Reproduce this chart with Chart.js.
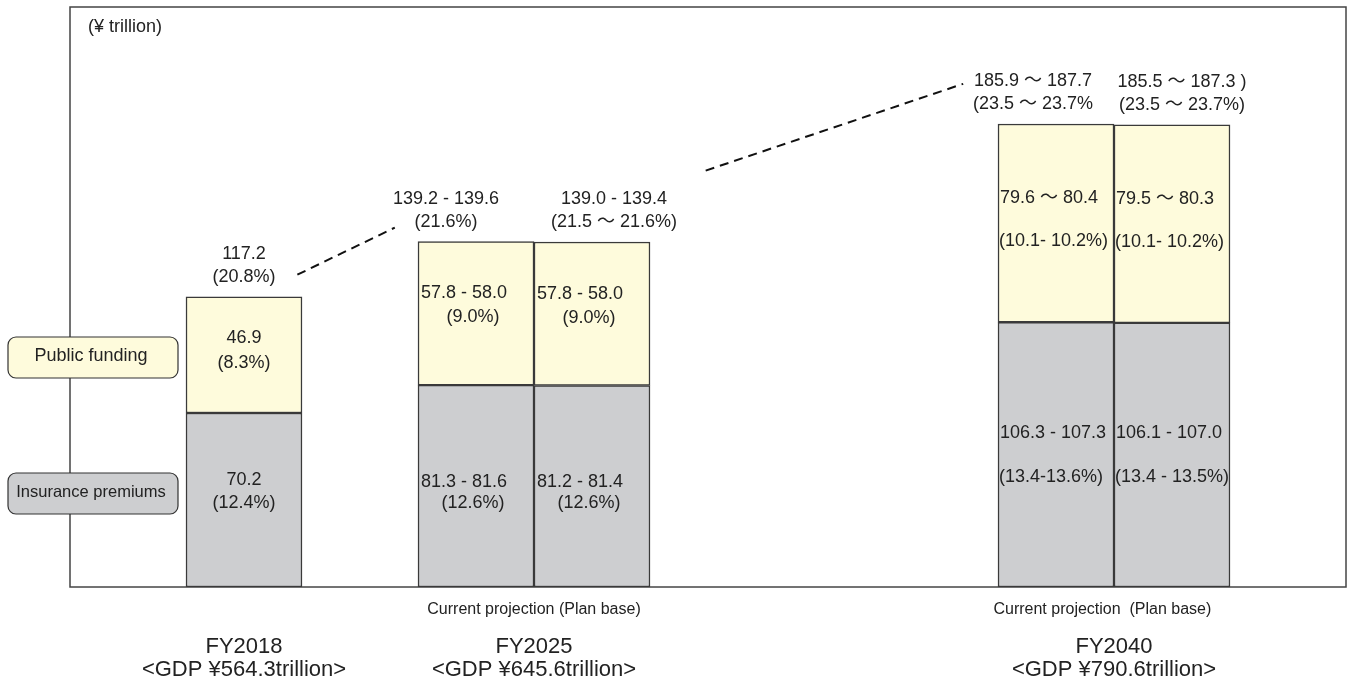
<!DOCTYPE html>
<html>
<head>
<meta charset="utf-8">
<script src="https://cdn.jsdelivr.net/npm/chart.js@4.4.1/dist/chart.umd.min.js"></script>
<style>
html, body { margin: 0; padding: 0; background: #fff; }
#wrap { width: 1352px; height: 686px; position: relative; }
</style>
</head>
<body>
<div id="wrap"><canvas id="chart"></canvas></div>
<script>
// 11 equal slots along the x axis, bars sit in some of them
const slots = ['', 'FY2018', '', 'FY2025 current', 'FY2025 plan', '', '', '', 'FY2040 current', 'FY2040 plan', ''];
const barSlot = [1, 3, 4, 8, 9];
const premiums = [70.2, 81.45, 81.3, 106.8, 106.55];
const publicFunding = [46.9, 57.9, 57.9, 80.0, 79.9];
const premiumText = [['70.2', '(12.4%)'], ['81.3 - 81.6', '(12.6%)'], ['81.2 - 81.4', '(12.6%)'], ['106.3 - 107.3', '(13.4-13.6%)'], ['106.1 - 107.0', '(13.4 - 13.5%)']];
const publicText = [['46.9', '(8.3%)'], ['57.8 - 58.0', '(9.0%)'], ['57.8 - 58.0', '(9.0%)'], ['79.6 ～ 80.4', '(10.1- 10.2%)'], ['79.5 ～ 80.3', '(10.1- 10.2%)']];
const totalText = [['117.2', '(20.8%)'], ['139.2 - 139.6', '(21.6%)'], ['139.0 - 139.4', '(21.5 ～ 21.6%)'], ['185.9 ～ 187.7', '(23.5 ～ 23.7%'], ['185.5 ～ 187.3 )', '(23.5 ～ 23.7%)']];
const years = ['FY2018', 'FY2025', 'FY2040'];
const gdp = ['<GDP ¥564.3trillion>', '<GDP ¥645.6trillion>', '<GDP ¥790.6trillion>'];
const yearPos = [1.5, 4, 9];
const projText = ['Current projection (Plan base)', 'Current projection  (Plan base)'];
const projPos = [4, 8.9];
// dashed connectors between the totals (x in slot units, y in ¥ trillion)
const trendLine = [{x: 1.96, y: 126}, {x: 2.8, y: 145}, {x: 4, y: null}, {x: 5.48, y: 168}, {x: 7.7, y: 203}];

// layout tweaks for the text blocks
const totalShift = [0, -30, 22, -23, 10];
const premiumDy = [[-20, 3], [-4, 17], [-4, 17], [-22, 22], [-22, 22]];
const publicDy = [[-17, 8], [-20, 4], [-20, 4], [-25, 18], [-25, 18]];
const FONT = '"Liberation Sans", "Noto Sans CJK JP", sans-serif';
const INK = '#222';

function toSlots(vals) {
    const out = slots.map(() => null);
    barSlot.forEach((s, i) => { out[s] = vals[i]; });
    return out;
}

function txt(ctx, s, x, y, size, align) {
    ctx.save();
    ctx.font = size + 'px ' + FONT;
    ctx.fillStyle = INK;
    ctx.textAlign = align || 'center';
    ctx.textBaseline = 'middle';
    ctx.fillText(s, x, y);
    ctx.restore();
}

const framePlugin = {
    id: 'frame',
    beforeDatasetsDraw(chart) {
        const ctx = chart.ctx, a = chart.chartArea;
        ctx.save();
        ctx.strokeStyle = '#444';
        ctx.lineWidth = 1.5;
        ctx.strokeRect(a.left, a.top, a.right - a.left, a.bottom - a.top);
        ctx.restore();
    }
};

const labelPlugin = {
    id: 'labels',
    afterDatasetsDraw(chart) {
        const ctx = chart.ctx;
        const mp = chart.getDatasetMeta(0), mf = chart.getDatasetMeta(1);
        barSlot.forEach((s, i) => {
            const bp = mp.data[s], bf = mf.data[s];
            const left = bp.x - bp.width / 2;
            const big = i >= 3;
            [[bp, premiumText[i], premiumDy[i]], [bf, publicText[i], publicDy[i]]].forEach(([b, t, dy]) => {
                const mid = (b.y + b.base) / 2;
                if (i === 0) {
                    txt(ctx, t[0], b.x, mid + dy[0], 18);
                    txt(ctx, t[1], b.x, mid + dy[1], 18);
                } else if (big) {
                    txt(ctx, t[0], left + 2, mid + dy[0], 18, 'left');
                    txt(ctx, t[1], left + 1, mid + dy[1], 18, 'left');
                } else {
                    txt(ctx, t[0], left + 3, mid + dy[0], 18, 'left');
                    txt(ctx, t[1], b.x - 3, mid + dy[1], 18);
                }
            });
            txt(ctx, totalText[i][0], bf.x + totalShift[i], bf.y - 43, 18);
            txt(ctx, totalText[i][1], bf.x + totalShift[i], bf.y - 20, 18);
        });
    },
    afterDraw(chart) {
        const ctx = chart.ctx, xl = chart.scales.xl;
        txt(ctx, '(¥ trillion)', 88, 27, 18, 'left');
        projText.forEach((t, i) => txt(ctx, t, xl.getPixelForValue(projPos[i]), 610, 16));
        years.forEach((t, i) => {
            const x = xl.getPixelForValue(yearPos[i]);
            txt(ctx, t, x, 647, 22);
            txt(ctx, gdp[i], x, 670, 22);
        });
        // legend boxes on the left edge
        [['Public funding', '#fefbdc', 337, 18], ['Insurance premiums', '#cdced0', 473, 16.5]].forEach(([t, c, y, size]) => {
            ctx.save();
            ctx.beginPath();
            ctx.roundRect(8, y, 170, 41, 8);
            ctx.fillStyle = c;
            ctx.fill();
            ctx.strokeStyle = '#333';
            ctx.lineWidth = 1.2;
            ctx.stroke();
            ctx.restore();
            txt(ctx, t, 91, y + 19, size);
        });
    }
};

new Chart(document.getElementById('chart'), {
    type: 'bar',
    data: {
        labels: slots,
        datasets: [
            {label: 'Insurance premiums', data: toSlots(premiums), backgroundColor: '#cdced0', borderColor: '#3a3a3a', borderWidth: 1.5, borderSkipped: false, grouped: false, barPercentage: 1, categoryPercentage: 1},
            {label: 'Public funding', data: toSlots(publicFunding), backgroundColor: '#fefbdc', borderColor: '#3a3a3a', borderWidth: 1.5, borderSkipped: false, grouped: false, barPercentage: 1, categoryPercentage: 1},
            {type: 'line', label: 'trend', data: trendLine, xAxisID: 'xl', borderColor: '#111', borderWidth: 2, borderDash: [9, 6], pointRadius: 0, spanGaps: false, fill: false}
        ]
    },
    options: {
        responsive: true,
        maintainAspectRatio: false,
        animation: false,
        layout: {padding: {left: 70, right: 6, top: 7, bottom: 99}},
        plugins: {legend: {display: false}, tooltip: {enabled: false}},
        scales: {
            x: {stacked: true, display: false},
            xl: {type: 'linear', min: 0, max: 11, display: false, offset: false},
            y: {stacked: true, min: 0, max: 234, display: false}
        }
    },
    plugins: [framePlugin, labelPlugin]
});
</script>
</body>
</html>
